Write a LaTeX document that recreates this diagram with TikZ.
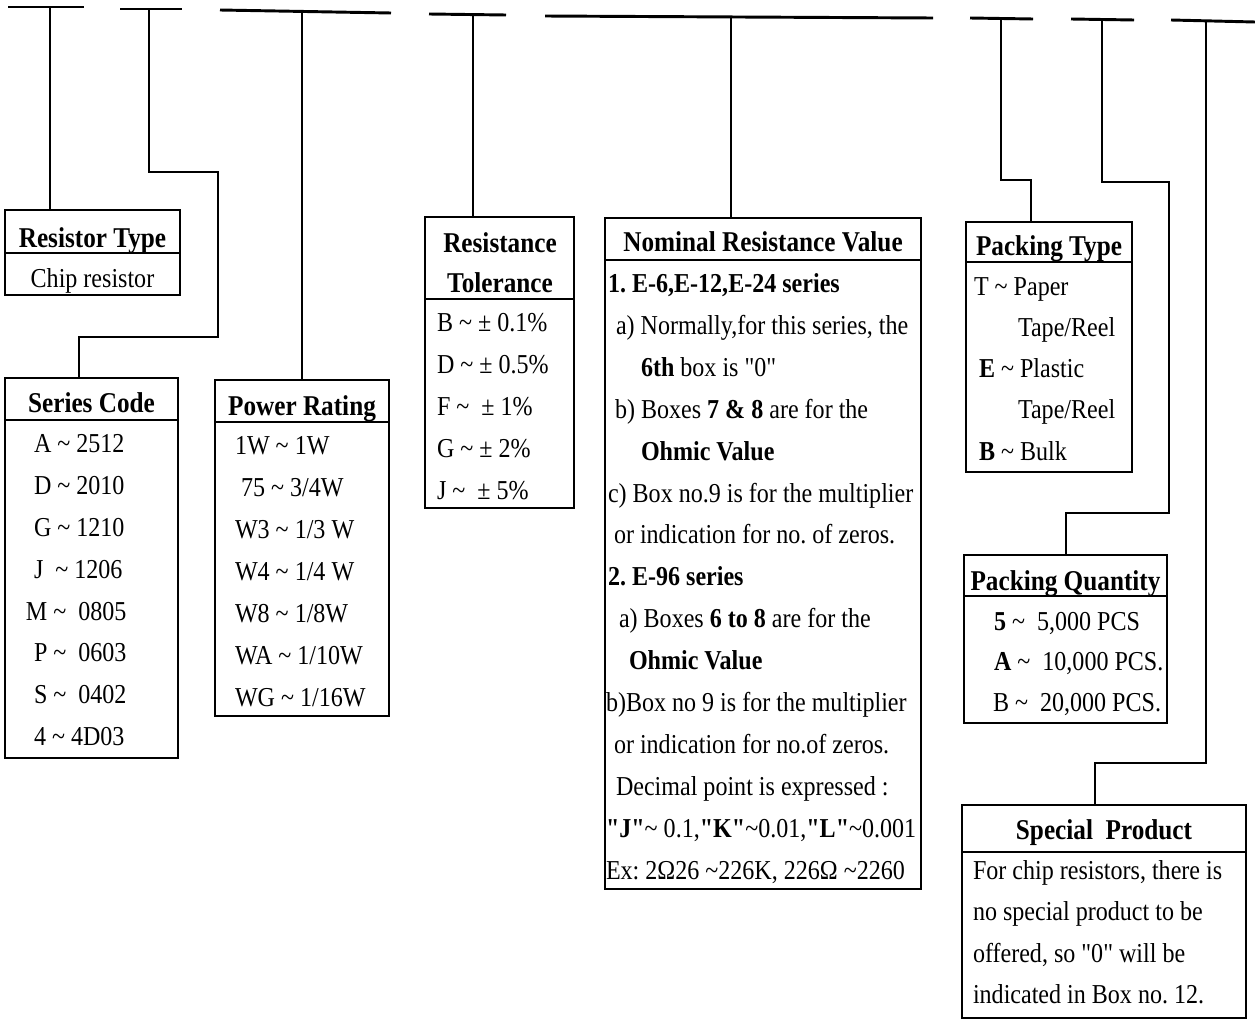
\documentclass[tikz,border=0pt]{standalone}
\usepackage{fontspec}
\setmainfont{Liberation Serif}[Ligatures=TeXOff, FakeStretch=0.88]
\usetikzlibrary{fit}
\frenchspacing

\newcommand{\tld}{\textasciitilde}

\tikzset{every picture/.style={line width=1.5pt}}
\tikzset{
  box/.style={draw, inner sep=0pt, line width=1.5pt},
  bar/.style={line width=2.2pt},
  wire/.style={line width=1.5pt},
  hd/.style={anchor=base, inner sep=0pt, font=\fontsize{21.5}{25}\selectfont\bfseries},
  tx/.style={anchor=base west, inner sep=0pt, font=\fontsize{20.5}{24}\selectfont},
  txc/.style={tx, anchor=base},
}

\begin{document}
\begin{tikzpicture}[x=0.75pt,y=0.75pt,yscale=-1,xscale=1]
\useasboundingbox (0,0) rectangle (1255,1028);

%Top bars
\draw[bar] (8,7) -- (84,7) ;
\draw[bar] (120,9) -- (182,9) ;
\draw[bar] (220,10) -- (391,13) ;
\draw[bar] (429,14) -- (506,15) ;
\draw[bar] (545,16) -- (933,18) ;
\draw[bar] (970,18) -- (1033,19) ;
\draw[bar] (1071,19) -- (1134,20) ;
\draw[bar] (1171,20) -- (1255,22) ;
\coordinate (t1) at (50,7);
\coordinate (t2) at (149,9);
\coordinate (t3) at (302,12);
\coordinate (t4) at (473,14);
\coordinate (t5) at (731,17);
\coordinate (t6) at (1001,19);
\coordinate (t7) at (1102,19);
\coordinate (t8) at (1206,21);
\coordinate (t2b) at (79,337);
\coordinate (t6b) at (1031,180);
\coordinate (t7b) at (1066,513);
\coordinate (t8b) at (1095,763);

%Boxes
\node[box, fit={(5,210) (180,295)}] (rtype) {};
\draw (5,253) -- (180,253) ;
\node[box, fit={(5,378) (178,758)}] (scode) {};
\draw (5,420) -- (178,420) ;
\node[box, fit={(215,380) (389,716)}] (prate) {};
\draw (215,422) -- (389,422) ;
\node[box, fit={(425,217) (574,508)}] (rtol) {};
\draw (425,299) -- (574,299) ;
\node[box, fit={(605,218) (921,889)}] (nval) {};
\draw (605,260) -- (921,260) ;
\node[box, fit={(966,222) (1132,472)}] (ptype) {};
\draw (966,262) -- (1132,262) ;
\node[box, fit={(964,555) (1167,723)}] (pqty) {};
\draw (964,596) -- (1167,596) ;
\node[box, fit={(962,805) (1246,1018)}] (sprod) {};
\draw (962,852) -- (1246,852) ;

%Connectors
\draw[wire] (t1) -- (t1 |- rtype.north) ;
\draw[wire] (t2) |- (218,172) |- (t2b) -- (t2b |- scode.north) ;
\draw[wire] (t3) -- (t3 |- prate.north) ;
\draw[wire] (t4) -- (t4 |- rtol.north) ;
\draw[wire] (t5) -- (t5 |- nval.north) ;
\draw[wire] (t6) |- (t6b) -- (t6b |- ptype.north) ;
\draw[wire] (t7) |- (1169,182) |- (t7b) -- (t7b |- pqty.north) ;
\draw[wire] (t8) |- (t8b) -- (t8b |- sprod.north) ;

% Resistor Type
\node[hd] (rtypeh) at (92.5,247) {Resistor Type};
\node[txc] (rtype1) at (92.5,287) {Chip resistor};

% Series Code
\node[hd] (scodeh) at (91.5,412) {Series Code};
\node[tx] (scode1) at (33,452) {A \tld{} 2512};
\node[tx] (scode2) at (33,494) {D \tld{} 2010};
\node[tx] (scode3) at (33,536) {G \tld{} 1210};
\node[tx] (scode4) at (33,578) {J \ \tld{} 1206};
\node[tx] (scode5) at (25,620) {M \tld{} \ 0805};
\node[tx] (scode6) at (33,661) {P \tld{} \ 0603};
\node[tx] (scode7) at (33,703) {S \tld{} \ 0402};
\node[tx] (scode8) at (33,745) {4 \tld{} 4D03};

% Power Rating
\node[hd] (prateh) at (302,415) {Power Rating};
\node[tx] (prate1) at (234,454) {1W \tld{} 1W};
\node[tx] (prate2) at (240,496) {75 \tld{} 3/4W};
\node[tx] (prate3) at (234,538) {W3 \tld{} 1/3 W};
\node[tx] (prate4) at (234,580) {W4 \tld{} 1/4 W};
\node[tx] (prate5) at (234,622) {W8 \tld{} 1/8W};
\node[tx] (prate6) at (234,664) {WA \tld{} 1/10W};
\node[tx] (prate7) at (234,706) {WG \tld{} 1/16W};

% Resistance Tolerance
\node[hd] (rtolh1) at (500,252) {Resistance};
\node[hd] (rtolh2) at (500,292) {Tolerance};
\node[tx] (rtol1) at (436,331) {B \tld{} ± 0.1\%};
\node[tx] (rtol2) at (436,373) {D \tld{} ± 0.5\%};
\node[tx] (rtol3) at (436,415) {F \tld{} \ ± 1\%};
\node[tx] (rtol4) at (436,457) {G \tld{} ± 2\%};
\node[tx] (rtol5) at (436,499) {J \tld{} \ ± 5\%};

% Nominal Resistance Value
\node[hd] (nvalh) at (763,251) {Nominal Resistance Value};
\node[tx] (nval1) at (607,292) {\textbf{1. E-6,E-12,E-24 series}};
\node[tx] (nval2) at (615,334) {a) Normally,for this series, the};
\node[tx] (nval3) at (640,376) {\textbf{6th} box is "0"};
\node[tx] (nval4) at (614,418) {b) Boxes \textbf{7 \& 8} are for the};
\node[tx] (nval5) at (640,460) {\textbf{Ohmic Value}};
\node[tx] (nval6) at (607,502) {c) Box no.9 is for the multiplier};
\node[tx] (nval7) at (613,543) {or indication for no. of zeros.};
\node[tx] (nval8) at (607,585) {\textbf{2. E-96 series}};
\node[tx] (nval9) at (618,627) {a) Boxes \textbf{6 to 8} are for the};
\node[tx] (nval10) at (628,669) {\textbf{Ohmic Value}};
\node[tx] (nval11) at (605,711) {b)Box no 9 is for the multiplier};
\node[tx] (nval12) at (613,753) {or indication for no.of zeros.};
\node[tx] (nval13) at (615,795) {Decimal point is expressed :};
\node[tx] (nval14) at (605,837) {\textbf{"J"}\tld{} 0.1,\textbf{"K"}\tld{}0.01,\textbf{"L"}\tld{}0.001};
\node[tx] (nval15) at (605,879) {Ex: 2Ω26 \tld{}226K, 226Ω \tld{}2260};

% Packing Type
\node[hd] (ptypeh) at (1049,255) {Packing Type};
\node[tx] (ptype1) at (973,295) {T \tld{} Paper};
\node[tx] (ptype2) at (1017,336) {Tape/Reel};
\node[tx] (ptype3) at (978,377) {\textbf{E} \tld{} Plastic};
\node[tx] (ptype4) at (1017,418) {Tape/Reel};
\node[tx] (ptype5) at (978,460) {\textbf{B} \tld{} Bulk};

% Packing Quantity
\node[hd] (pqtyh) at (1065.5,590) {Packing Quantity};
\node[tx] (pqty1) at (993,630) {\textbf{5} \tld{} \ 5,000 PCS};
\node[tx] (pqty2) at (993,670) {\textbf{A} \tld{} \ 10,000 PCS.};
\node[tx] (pqty3) at (992,711) {B \tld{} \ 20,000 PCS.};

% Special Product
\node[hd] (sprodh) at (1104,839) {Special\ \ Product};
\node[tx] (sprod1) at (972,879) {For chip resistors, there is};
\node[tx] (sprod2) at (972,920) {no special product to be};
\node[tx] (sprod3) at (972,962) {offered, so "0" will be};
\node[tx] (sprod4) at (972,1003) {indicated in Box no. 12.};

\end{tikzpicture}
\end{document}
